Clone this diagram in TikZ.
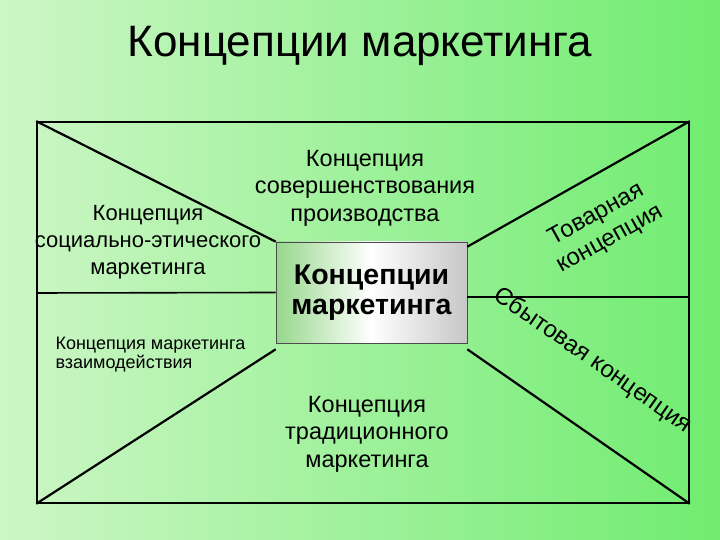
\documentclass[tikz,border=0pt]{standalone}
\usepackage{fontspec}
\setmainfont{Liberation Sans}
\usetikzlibrary{positioning}
\definecolor{PaleGreen}{RGB}{205, 246, 198}
\definecolor{BrightGreen}{RGB}{112, 236, 112}
\definecolor{CoreGreen}{RGB}{150, 215, 140}

\begin{document}
\begin{tikzpicture}[x=1pt, y=1pt,
      outline/.style={rectangle, draw=black, line width=1.6pt, minimum width=652pt, minimum height=381pt, inner sep=0pt},
      core/.style={rectangle, draw=black!70, line width=0.6pt, minimum width=191pt, minimum height=101pt, inner sep=0pt,
      align=center, font=\fontsize{28.5}{30}\selectfont\bfseries},
      caption/.style={align=center, font=\fontsize{23.5}{27.5}\selectfont},
      divider/.style={draw=black, line width=2.2pt}
    ]
      \shade[left color=PaleGreen, right color=BrightGreen] (0,0) rectangle (720,540);
      \useasboundingbox (0,0) rectangle (720,540);

      \node[font=\fontsize{44}{50}\selectfont] (title) at (360,494) {Концепции маркетинга};

      \node[outline] (frame) at (363,227.5) {};
      \node[core, shading=axis, shading angle=45, left color=CoreGreen, right color=black!22, middle color=white]
        (hub) at (371.5,247.5) {Концепции\\маркетинга};

      \draw[divider] (frame.north west) -- (hub.north west);
      \draw[divider] (frame.north east) -- ([yshift=-5pt]hub.north east);
      \draw[divider] (frame.south west) -- ([yshift=-6pt]hub.south west);
      \draw[divider] (frame.south east) -- ([yshift=-6pt]hub.south east);
      \draw[black, line width=1.6pt] ([yshift=19.5pt]frame.west) -- (hub.west);
      \draw[black, line width=1.6pt] ([yshift=15.5pt]frame.east) -- ([yshift=-4.5pt]hub.east);

      \node[caption] (production) at (365,352) {Концепция\\совершенствования\\производства};
      \node[caption, font=\fontsize{22}{27}\selectfont] (social) at (148,298) {Концепция\\социально-этического\\маркетинга};
      \node[caption] (traditional) at (367,106) {Концепция\\традиционного\\маркетинга};
      \node[align=left, anchor=north west, font=\fontsize{18}{18.5}\selectfont] (interaction) at (52,206)
        {Концепция маркетинга\\взаимодействия};
      \node[caption, font=\fontsize{24}{28}\selectfont, rotate=29] (product) at (603,313) {Товарная\\концепция};
      \node[caption, font=\fontsize{24}{28}\selectfont, rotate=-35, anchor=north west] (sales) at (502,261) {Сбытовая концепция};
    \end{tikzpicture}
\end{document}
